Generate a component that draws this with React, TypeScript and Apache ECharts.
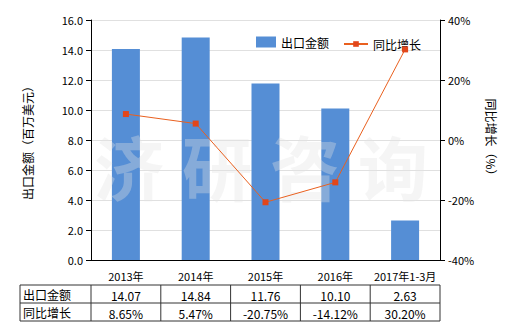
import React, { useEffect, useRef } from "react";
import * as echarts from "echarts";

const categories = ["2013年", "2014年", "2015年", "2016年", "2017年1-3月"];
const exportValues = [14.07, 14.84, 11.76, 10.1, 2.63];
const growthValues = [8.65, 5.47, -20.75, -14.12, 30.2];
const exportLabels = ["14.07", "14.84", "11.76", "10.10", "2.63"];
const growthLabels = ["8.65%", "5.47%", "-20.75%", "-14.12%", "30.20%"];
const rowNames = ["出口金额", "同比增长"];
const watermarkChars = ["济", "研", "咨", "询"];

const FONT = "'Noto Sans CJK SC', 'Noto Sans', sans-serif";

export default function App() {
  const ref = useRef<HTMLDivElement>(null);
  useEffect(() => {
    if (!ref.current) return;
    const chart = echarts.init(ref.current, null, { renderer: "svg" });
    const gridLeft = 91;
    const gridRight = 440;
    const colW = (gridRight - gridLeft) / categories.length;
    const tLeft = 20;
    const tTop = 285;
    const rowH = 18;
    const graphics: any[] = [];
    graphics.push({
      type: "rect",
      shape: { x: tLeft, y: tTop, width: gridRight - tLeft, height: rowH * 2 },
      style: { fill: "none", stroke: "#333", lineWidth: 1 },
    });
    graphics.push({
      type: "line",
      shape: { x1: tLeft, y1: tTop + rowH, x2: gridRight, y2: tTop + rowH },
      style: { stroke: "#333", lineWidth: 1 },
    });
    for (let i = 0; i < categories.length; i++) {
      const x = gridLeft + i * colW;
      graphics.push({
        type: "line",
        shape: { x1: x, y1: tTop, x2: x, y2: tTop + rowH * 2 },
        style: { stroke: "#333", lineWidth: 1 },
      });
    }
    rowNames.forEach((n, r) => {
      graphics.push({
        type: "text",
        x: tLeft + 3,
        y: tTop + r * rowH + rowH / 2,
        style: { text: n, fill: "#000", font: `12px ${FONT}`, verticalAlign: "middle" },
      });
    });
    [exportLabels, growthLabels].forEach((arr, r) => {
      arr.forEach((t, i) => {
        graphics.push({
          type: "text",
          x: gridLeft + i * colW + colW / 2,
          y: tTop + r * rowH + rowH / 2 + 1,
          style: { text: t, fill: "#000", font: `12px ${FONT}`, align: "center", verticalAlign: "middle" },
        });
      });
    });
    watermarkChars.forEach((c, i) => {
      graphics.push({
        type: "text",
        x: 129 + i * 88,
        y: 165,
        z: 3,
        style: {
          text: c,
          fill: "rgba(225,225,225,0.35)",
          font: `bold 70px ${FONT}`,
          align: "center",
          verticalAlign: "middle",
        },
      });
    });
    chart.setOption({
      animation: false,
      textStyle: { fontFamily: FONT },
      grid: { left: gridLeft, right: 520 - gridRight, top: 20, bottom: 70 },
      legend: [
        {
          top: 31,
          left: 251,
          itemWidth: 20,
          itemHeight: 11,
          textStyle: { fontSize: 12, color: "#000" },
          data: [{ name: "出口金额", icon: "rect" }],
        },
        {
          top: 33,
          left: 338,
          itemWidth: 24,
          itemHeight: 7,
          lineStyle: { width: 2 },
          textStyle: { fontSize: 12, color: "#000" },
          data: [{ name: "同比增长" }],
        },
      ],
      xAxis: {
        type: "category",
        data: categories,
        axisLine: { lineStyle: { color: "#000" } },
        axisTick: { show: false },
        axisLabel: { color: "#000", fontSize: 11, margin: 10, interval: 0 },
      },
      yAxis: [
        {
          type: "value",
          min: 0,
          max: 16,
          interval: 2,
          name: "出口金额（百万美元）",
          nameLocation: "middle",
          nameGap: 58,
          nameTextStyle: { fontSize: 12, color: "#000" },
          axisLine: { show: true, lineStyle: { color: "#000" } },
          axisTick: { show: true, length: 5, lineStyle: { color: "#000" } },
          axisLabel: { color: "#000", fontSize: 11, formatter: (v: number) => v.toFixed(1) },
          splitLine: { lineStyle: { color: "#e0e0e0" } },
        },
        {
          type: "value",
          min: -40,
          max: 40,
          interval: 20,
          name: "同比增长（%）",
          nameLocation: "middle",
          nameGap: 44,
          nameRotate: -90,
          nameTextStyle: { fontSize: 12, color: "#000" },
          axisLine: { show: true, lineStyle: { color: "#000" } },
          axisTick: { show: true, length: 5, lineStyle: { color: "#000" } },
          axisLabel: { color: "#000", fontSize: 11, formatter: "{value}%" },
          splitLine: { show: false },
        },
      ],
      series: [
        {
          name: "出口金额",
          type: "bar",
          data: exportValues,
          barWidth: 28,
          itemStyle: { color: "#558ed5" },
        },
        {
          name: "同比增长",
          type: "line",
          yAxisIndex: 1,
          z: 5,
          data: growthValues,
          symbol: "rect",
          symbolSize: 6,
          lineStyle: { color: "#e9601f", width: 1 },
          itemStyle: { color: "#e2461a" },
        },
      ],
      graphic: graphics,
    });
    return () => chart.dispose();
  }, []);
  return <div ref={ref} style={{ width: 520, height: 330, margin: -8 }} />;
}
